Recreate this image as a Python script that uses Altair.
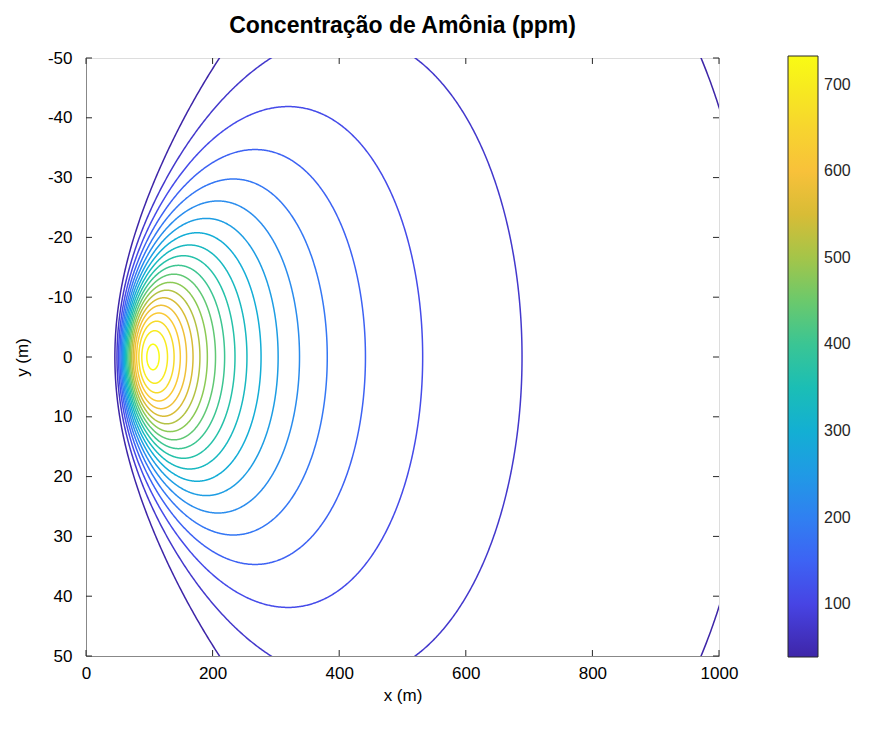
import numpy as np
import pandas as pd
import altair as alt

# Contour levels drawn (ppm), evenly spaced
LEVELS = [39.0, 75.5, 112.1, 148.6, 185.1, 221.6, 258.2, 294.7, 331.2, 367.7,
          404.3, 440.8, 477.3, 513.8, 550.4, 586.9, 623.4, 659.9, 696.5, 733.0]

# Ground-level plume field: centreline peak, downwind rise/decay and lateral spread
PEAK_PPM = 745.0
PEAK_X = 105.0
DECAY_M = 1.55
RISE_N = 2.45
SIGMA_REF = 33.0
SIGMA_X_REF = 310.0
SIGMA_EXP = 0.95

X_TICKS = [0, 200, 400, 600, 800, 1000]
Y_TICKS = [-50, -40, -30, -20, -10, 0, 10, 20, 30, 40, 50]
CBAR_TICKS = [100, 200, 300, 400, 500, 600, 700]
CBAR_RANGE = [39.0, 733.0]

# parula colour map stops
PARULA = ["#3e26a8", "#4745e6", "#3a6cf8", "#2790ec", "#12acd8", "#1cbfb2",
          "#45c788", "#8fca52", "#d4bb36", "#fcc23a", "#f5de28", "#f9fb14"]

FONT = "Liberation Sans"
INK = "#262626"


def centerline(x):
    return PEAK_PPM * np.exp(-DECAY_M * np.log(x / PEAK_X)
                             - DECAY_M / RISE_N * ((PEAK_X / x) ** RISE_N - 1.0))


def sigma_y(x):
    return SIGMA_REF * (x / SIGMA_X_REF) ** SIGMA_EXP


def crossing(c, lo, hi):
    # bisection on the centreline for the x where concentration equals c
    f_lo = centerline(lo) - c
    for _ in range(100):
        mid = 0.5 * (lo + hi)
        f_mid = centerline(mid) - c
        if (f_mid > 0) == (f_lo > 0):
            lo, f_lo = mid, f_mid
        else:
            hi = mid
    return 0.5 * (lo + hi)


rows = []
t = np.linspace(0.0, np.pi, 500)
for c in LEVELS:
    if c >= PEAK_PPM:
        continue
    x1 = crossing(c, 1.0, PEAK_X)
    x2 = crossing(c, PEAK_X, 1.0e5)
    xs = x1 + (x2 - x1) * (1.0 - np.cos(t)) / 2.0
    half = sigma_y(xs) * np.sqrt(np.maximum(0.0, 2.0 * np.log(centerline(xs) / c)))
    for side in (-1, 1):
        for i, (xv, yv) in enumerate(zip(xs, half)):
            rows.append({"x": round(float(xv), 3), "y": round(float(side * yv), 3),
                         "level": c, "key": f"{c}_{side}", "i": i})

contours = pd.DataFrame(rows)

# inward tick marks on all four sides of the box
tick_rows = []
for v in X_TICKS:
    tick_rows.append({"x": v, "x2": v, "y": 50, "y2": 49})
    tick_rows.append({"x": v, "x2": v, "y": -50, "y2": -49})
for v in Y_TICKS:
    tick_rows.append({"x": 0, "x2": 9.5, "y": v, "y2": v})
    tick_rows.append({"x": 1000, "x2": 990.5, "y": v, "y2": v})
ticks = pd.DataFrame(tick_rows)

x_scale = alt.Scale(domain=[0, 1000], nice=False, zero=False)
y_scale = alt.Scale(domain=[-50, 50], nice=False, zero=False, reverse=True)

x_axis = alt.Axis(values=X_TICKS, ticks=False, grid=False, labelFontSize=17,
                  labelPadding=9, labelFlush=False, titleFontSize=17,
                  titlePadding=6, titleFontWeight="normal",
                  labelExpr="'' + datum.value")
y_axis = alt.Axis(values=Y_TICKS, ticks=False, grid=False, labelFontSize=17,
                  labelPadding=14, labelFlush=False, titleFontSize=17,
                  titlePadding=16, titleFontWeight="normal",
                  labelExpr="'' + datum.value")

color_scale = alt.Scale(
    domain=list(np.linspace(CBAR_RANGE[0], CBAR_RANGE[1], len(PARULA))),
    range=PARULA, interpolate="rgb")

lines = alt.Chart(contours).mark_line(clip=True, strokeWidth=1.5).encode(
    x=alt.X("x:Q", scale=x_scale, axis=x_axis, title="x (m)"),
    y=alt.Y("y:Q", scale=y_scale, axis=y_axis, title="y (m)"),
    color=alt.Color("level:Q", scale=color_scale,
                    legend=alt.Legend(orient="none", legendX=702, legendY=-2,
                                      direction="vertical", title=None,
                                      gradientLength=601, gradientThickness=30,
                                      gradientStrokeColor=INK, gradientStrokeWidth=1,
                                      values=CBAR_TICKS, labelFontSize=16,
                                      labelColor=INK, labelFont=FONT,
                                      labelOffset=6, padding=0)),
    detail="key:N",
    order="i:Q",
)

tick_marks = alt.Chart(ticks).mark_rule(color=INK, strokeWidth=1).encode(
    x=alt.X("x:Q", scale=x_scale, title="x (m)"),
    x2="x2:Q",
    y=alt.Y("y:Q", scale=y_scale, title="y (m)"),
    y2="y2:Q",
)

chart = alt.layer(lines, tick_marks).properties(
    width=633,
    height=598,
    autosize=alt.AutoSizeParams(type="none"),
    padding={"left": 86, "top": 58, "right": 163, "bottom": 75},
    title=alt.TitleParams("Concentração de Amônia (ppm)", fontSize=23,
                          fontWeight="bold", font=FONT, color="black",
                          anchor="middle", offset=11),
).configure_view(
    stroke=INK, strokeWidth=1
).configure_axis(
    labelFont=FONT, titleFont=FONT, labelColor=INK, titleColor=INK,
    domainColor=INK, domainWidth=1
).configure(background="white")

chart.save("out.html", embed_options={"renderer": "svg", "actions": False})
